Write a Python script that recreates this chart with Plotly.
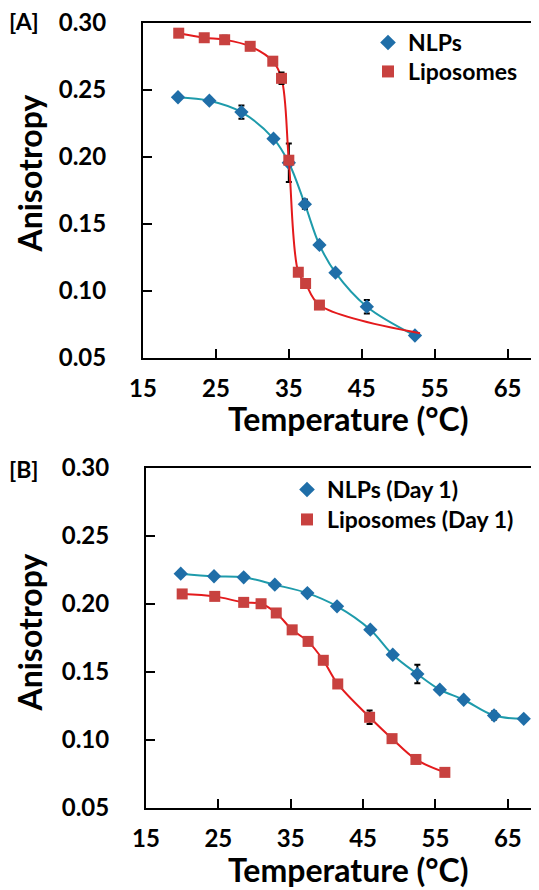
import plotly.graph_objects as go

# ---------------- data ----------------
# Panel A
a_nlp_t = [19.8, 24.1, 28.5, 32.9, 35.0, 37.2, 39.2, 41.4, 45.7, 52.3]
a_nlp_v = [0.2446, 0.2420, 0.2335, 0.2137, 0.1957, 0.1648, 0.1344, 0.1137, 0.0883, 0.0668]
a_nlp_e = [0.0, 0.0, 0.0050, 0.0, 0.0144, 0.0035, 0.0, 0.0, 0.0050, 0.0]

a_lip_t = [19.9, 23.4, 26.2, 29.7, 32.8, 34.0, 35.0, 36.3, 37.3, 39.2, 53.0]
a_lip_v = [0.2924, 0.2890, 0.2875, 0.2826, 0.2715, 0.2587, 0.1976, 0.1140, 0.1056, 0.0895, 0.0685]
a_lip_e = [0.0, 0.0, 0.0030, 0.0, 0.0, 0.0043, 0.0, 0.0, 0.0, 0.0, 0.0]

# Panel B
b_nlp_t = [19.8, 24.4, 28.5, 32.8, 37.3, 41.4, 46.0, 49.1, 52.5, 55.6, 58.9, 63.1, 67.2]
b_nlp_v = [0.2223, 0.2204, 0.2196, 0.2142, 0.2080, 0.1983, 0.1811, 0.1627, 0.1485, 0.1370, 0.1296, 0.1180, 0.1156]
b_nlp_e = [0.0, 0.0, 0.0, 0.0, 0.0, 0.0, 0.0, 0.0, 0.0068, 0.0, 0.0, 0.0030, 0.0]

b_lip_t = [20.0, 24.5, 28.5, 30.9, 33.0, 35.2, 37.4, 39.5, 41.5, 45.9, 49.0, 52.3, 56.3]
b_lip_v = [0.2074, 0.2056, 0.2012, 0.2002, 0.1934, 0.1810, 0.1725, 0.1586, 0.1412, 0.1167, 0.1010, 0.0857, 0.0762]
b_lip_e = [0.0, 0.0, 0.0, 0.0, 0.0030, 0.0, 0.0, 0.0, 0.0, 0.0050, 0.0, 0.0, 0.0]

x_ticks = [15, 25, 35, 45, 55, 65]
y_ticks = [0.05, 0.10, 0.15, 0.20, 0.25, 0.30]

names_a = ["NLPs", "Liposomes"]
names_b = ["NLPs (Day 1)", "Liposomes (Day 1)"]

# ---------------- styles ----------------
W, H = 539, 890
FONT = "Lato"
BLUE_M = "#1F6EA8"
BLUE_L = "#1E9BAB"
RED_M = "#C8413F"
RED_L = "#E41A1C"


def px(x):
    return x / W


def py(y):
    return 1 - y / H


fig = go.Figure()


def add_panel(xa, ya, leg_n, leg_l, nt, nv, ne, lt, lv, le, names, lip_marker_n):
    fig.add_trace(go.Scatter(x=nt, y=nv, mode="lines", line=dict(color=BLUE_L, width=2, shape="spline", smoothing=1),
                             showlegend=False, hoverinfo="skip", xaxis=xa, yaxis=ya))
    fig.add_trace(go.Scatter(x=nt, y=nv, mode="markers", name=names[0],
                             marker=dict(symbol="diamond", size=11, color=BLUE_M),
                             error_y=dict(type="data", array=ne, color="black", thickness=2, width=3),
                             legend=leg_n, xaxis=xa, yaxis=ya))
    fig.add_trace(go.Scatter(x=lt, y=lv, mode="lines", line=dict(color=RED_L, width=2, shape="spline", smoothing=1),
                             showlegend=False, hoverinfo="skip", xaxis=xa, yaxis=ya))
    fig.add_trace(go.Scatter(x=lt[:lip_marker_n], y=lv[:lip_marker_n], mode="markers", name=names[1],
                             marker=dict(symbol="square", size=11, color=RED_M),
                             error_y=dict(type="data", array=le[:lip_marker_n], color="black", thickness=2, width=3),
                             legend=leg_l, xaxis=xa, yaxis=ya))


add_panel("x", "y", "legend", "legend2", a_nlp_t, a_nlp_v, a_nlp_e, a_lip_t, a_lip_v, a_lip_e,
          names_a, len(a_lip_t) - 1)
add_panel("x2", "y2", "legend3", "legend4", b_nlp_t, b_nlp_v, b_nlp_e, b_lip_t, b_lip_v, b_lip_e,
          names_b, len(b_lip_t))

tickfont = dict(family=FONT, size=24, color="black", weight="bold")

xcommon = dict(range=[15, 70], tickvals=x_ticks, ticks="inside", ticklen=9, tickwidth=2, tickcolor="black",
               showline=True, linecolor="black", linewidth=2, mirror=True, showgrid=False, zeroline=False,
               tickfont=tickfont, ticklabelstandoff=8, automargin=False, ticklabeloverflow="allow")
ycommon = dict(range=[0.05, 0.30], tickvals=y_ticks, tickformat=".2f", ticks="inside", ticklen=9, tickwidth=2,
               tickcolor="black", showline=True, linecolor="black", linewidth=2, mirror=True, showgrid=False,
               zeroline=False, tickfont=tickfont, ticklabelstandoff=30, automargin=False,
               ticklabeloverflow="allow")

legfont = dict(family=FONT, size=23, color="black", weight="bold")


def leg(x, y):
    return dict(x=px(x), y=py(y), xanchor="left", yanchor="top", font=legfont, bgcolor="rgba(0,0,0,0)",
                itemsizing="constant")


fig.update_layout(
    width=W, height=H,
    margin=dict(l=0, r=0, t=0, b=0, autoexpand=False),
    paper_bgcolor="white", plot_bgcolor="white",
    xaxis=dict(domain=[px(135), px(536)], anchor="y", **xcommon),
    yaxis=dict(domain=[py(350), py(15)], anchor="x", **ycommon),
    xaxis2=dict(domain=[px(138), px(536)], anchor="y2", **xcommon),
    yaxis2=dict(domain=[py(800), py(460)], anchor="x2", **ycommon),
    legend=leg(360, 13),
    legend2=leg(360, 42),
    legend3=leg(279, 460),
    legend4=leg(279, 490),
    showlegend=True,
)

title_font = dict(family=FONT, size=32, color="black", weight="bold")
label_font = dict(family=FONT, size=23, color="black", weight="bold")

fig.add_annotation(text="Temperature (°C)", x=px(340), y=py(411), xref="paper", yref="paper",
                   showarrow=False, xanchor="center", yanchor="middle", font=title_font)
fig.add_annotation(text="Temperature (°C)", x=px(340), y=py(861), xref="paper", yref="paper",
                   showarrow=False, xanchor="center", yanchor="middle", font=title_font)
fig.add_annotation(text="Anisotropy", x=px(0), y=py(166), xref="paper", yref="paper", textangle=-90,
                   showarrow=False, xanchor="left", yanchor="middle", font=title_font, borderpad=0)
fig.add_annotation(text="Anisotropy", x=px(0), y=py(625), xref="paper", yref="paper", textangle=-90,
                   showarrow=False, xanchor="left", yanchor="middle", font=title_font, borderpad=0)
fig.add_annotation(text="[A]", x=0, y=py(13), xref="paper", yref="paper",
                   showarrow=False, xanchor="left", yanchor="middle", font=label_font, borderpad=0)
fig.add_annotation(text="[B]", x=0, y=py(461), xref="paper", yref="paper",
                   showarrow=False, xanchor="left", yanchor="middle", font=label_font, borderpad=0)

fig.write_html("out.html")
